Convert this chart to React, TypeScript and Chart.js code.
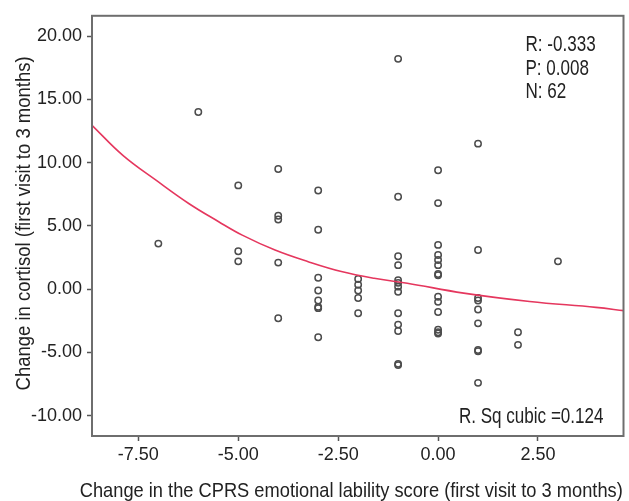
import React, { useEffect, useRef } from "react";
import { Chart, registerables } from "chart.js";

Chart.register(...registerables);

// Change in CPRS emotional lability score (x) for each subject
const labilityChange: number[] = [
  -7,
  -6,
  -5, -5, -5,
  -4, -4, -4, -4, -4,
  -3, -3, -3, -3, -3, -3, -3, -3,
  -2, -2, -2, -2, -2,
  -1, -1, -1, -1, -1, -1, -1, -1, -1, -1, -1, -1, -1,
  0, 0, 0, 0, 0, 0, 0, 0, 0, 0, 0, 0, 0, 0,
  1, 1, 1, 1, 1, 1, 1, 1, 1,
  2, 2,
  3,
];

// Change in cortisol (y) for each subject
const cortisolChange: number[] = [
  3.6,
  14.0,
  8.2, 3.0, 2.2,
  9.5, 5.8, 5.5, 2.1, -2.3,
  7.8, 4.7, 0.9, -0.1, -0.9, -1.4, -1.5, -3.8,
  0.8, 0.35, -0.1, -0.7, -1.9,
  18.2, 7.3, 2.6, 1.9, 0.7, 0.5, 0.2, -0.2, -1.9, -2.8, -3.3, -5.9, -6.0,
  9.4, 6.8, 3.5, 2.7, 2.3, 1.9, 1.2, 1.1, -0.6, -1.0, -1.8, -3.2, -3.4, -3.5,
  11.5, 3.1, -0.7, -0.9, -1.6, -2.7, -4.8, -4.9, -7.4,
  -3.4, -4.4,
  2.2,
];

// Cubic fit line
const fitX: number[] = [-8.66, -7.88, -7.05, -6.23, -5.5, -4.9, -4.08, -3.25, -2.42, -1.6, -0.77, 0.64, 2.29, 3.95, 4.66];
const fitY: number[] = [12.95, 10.55, 8.59, 6.75, 5.35, 4.27, 3.09, 2.17, 1.39, 0.86, 0.47, -0.31, -0.97, -1.44, -1.7];

const xTicks: number[] = [-7.5, -5, -2.5, 0, 2.5];
const yTicks: number[] = [-10, -5, 0, 5, 10, 15, 20];

const statLines: string[] = ["R: -0.333", "P: 0.008", "N: 62"];
const fitLabel = "R. Sq cubic =0.124";

const xTitle = "Change in the CPRS emotional lability score (first visit to 3 months)";
const yTitle = "Change in cortisol (first visit to 3 months)";

const FONT = "'Liberation Sans', Arial, sans-serif";
const TEXT = "#222222";
const SQUEEZE = 0.775;

const framePlugin = {
  id: "frame",
  afterDraw(chart: any) {
    const { ctx, chartArea } = chart;
    const { left, right, top, bottom } = chartArea;
    ctx.save();
    ctx.strokeStyle = "#6e6e6e";
    ctx.lineWidth = 2;
    ctx.strokeRect(left, top, right - left, bottom - top);

    ctx.fillStyle = TEXT;
    ctx.font = `22px ${FONT}`;
    ctx.textBaseline = "alphabetic";

    // statistics box (condensed text)
    ctx.textAlign = "left";
    statLines.forEach((s, i) => {
      ctx.save();
      ctx.translate(right - 98, top + 35.3 + i * 23.4);
      ctx.scale(SQUEEZE, 1);
      ctx.fillText(s, 0, 0);
      ctx.restore();
    });

    // fit label
    ctx.save();
    ctx.translate(right - 20, bottom - 13.3);
    ctx.scale(SQUEEZE, 1);
    ctx.textAlign = "right";
    ctx.fillText(fitLabel, 0, 0);
    ctx.restore();

    // axis titles (condensed)
    ctx.font = `21px ${FONT}`;
    ctx.textAlign = "center";
    ctx.textBaseline = "alphabetic";
    ctx.fillText(xTitle, (left + right) / 2 - 6.5, chart.height - 4.5, 543);

    ctx.save();
    ctx.translate(29.5, (top + bottom) / 2 - 2.5);
    ctx.rotate(-Math.PI / 2);
    ctx.fillText(yTitle, 0, 0, 334);
    ctx.restore();

    ctx.restore();
  },
};

export default function App() {
  const ref = useRef<HTMLCanvasElement | null>(null);

  useEffect(() => {
    document.body.style.margin = "0";
    const canvas = ref.current!;
    const points = labilityChange.map((x, i) => ({ x, y: cortisolChange[i] }));
    const fit = fitX.map((x, i) => ({ x, y: fitY[i] }));
    const chart = new Chart(canvas, {
      type: "scatter",
      data: {
        datasets: [
          {
            type: "line",
            data: fit,
            borderColor: "#e5375e",
            borderWidth: 1.6,
            pointRadius: 0,
            fill: false,
            tension: 0.4,
            order: 0,
          } as any,
          {
            data: points,
            pointRadius: 3.2,
            pointBorderWidth: 1.5,
            borderColor: "#4d4d4d",
            backgroundColor: "rgba(255,255,255,0)",
            pointStyle: "circle",
            order: 1,
          },
        ],
      },
      options: {
        responsive: false,
        animation: false,
        devicePixelRatio: 1,
        layout: { padding: { top: 13, right: 1, left: 0, bottom: 0 } },
        plugins: { legend: { display: false }, tooltip: { enabled: false } },
        scales: {
          x: {
            type: "linear",
            min: -8.66,
            max: 4.64,
            afterFit: (s: any) => { s.height = 65; },
            afterBuildTicks: (s: any) => { s.ticks = xTicks.map((v) => ({ value: v })); },
            grid: { drawOnChartArea: false, tickLength: 5, tickColor: "#555", tickWidth: 1.5 },
            border: { color: "#6e6e6e", width: 2 },
            ticks: {
              padding: 3,
              color: TEXT,
              font: { family: FONT, size: 18 },
              callback: (v: any) => Number(v).toFixed(2),
            },
            title: { display: false },
          },
          y: {
            type: "linear",
            min: -11.6,
            max: 21.6,
            afterFit: (s: any) => { s.width = 92; },
            afterBuildTicks: (s: any) => { s.ticks = yTicks.map((v) => ({ value: v })); },
            grid: { drawOnChartArea: false, tickLength: 5, tickColor: "#555", tickWidth: 1.5 },
            border: { color: "#6e6e6e", width: 2 },
            ticks: {
              padding: 5,
              color: TEXT,
              font: { family: FONT, size: 18 },
              callback: (v: any) => Number(v).toFixed(2),
            },
            title: { display: false },
          },
        },
      },
      plugins: [framePlugin],
    });
    return () => chart.destroy();
  }, []);

  return (
    <div style={{ position: "absolute", left: 0, top: 0, width: 629, height: 501 }}>
      <canvas ref={ref} width={629} height={501} style={{ display: "block" }} />
    </div>
  );
}
